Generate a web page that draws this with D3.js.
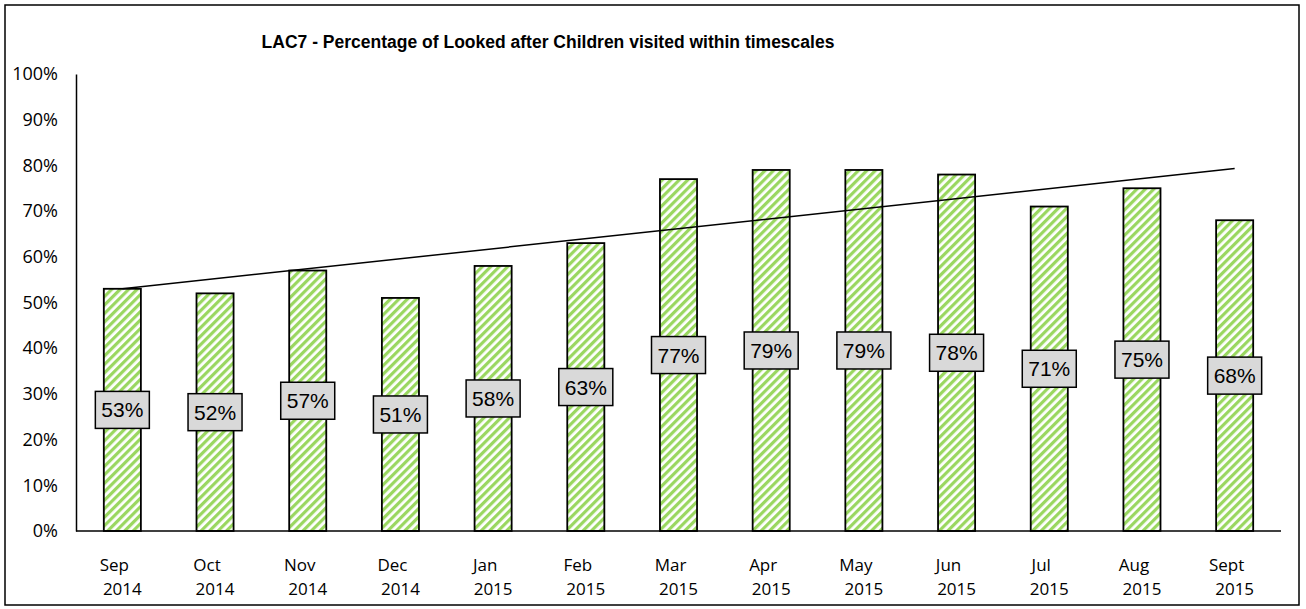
<!DOCTYPE html>
<html>
<head>
  <meta charset="utf-8">
  <script src="https://d3js.org/d3.v7.min.js"></script>
  <style type="text/css">
  body { margin: 0; background: #fff; }
  svg { display: block; }
  .yaxis line { display: none; }
  .yaxis text { font-family: "Open Sans", sans-serif; font-size: 18px; font-weight: 400; fill: #000; }
  .xlab { font-family: "Open Sans", sans-serif; font-size: 17px; font-weight: 400; fill: #000; }
  </style>
</head>
<body>
<script type="text/javascript">
  // data
  var months = ["Sep", "Oct", "Nov", "Dec", "Jan", "Feb", "Mar", "Apr", "May", "Jun", "Jul", "Aug", "Sept"];
  var years = ["2014", "2014", "2014", "2014", "2015", "2015", "2015", "2015", "2015", "2015", "2015", "2015", "2015"];
  var values = [53, 52, 57, 51, 58, 63, 77, 79, 79, 78, 71, 75, 68];
  // target line, from first to last month
  var targetStart = 53, targetEnd = 79.3;
  var yTicks = [0, 10, 20, 30, 40, 50, 60, 70, 80, 90, 100];

  var W = 1306, H = 609;
  var plot = {left: 76, right: 1281, top: 74, bottom: 531};

  var svg = d3.select("body").append("svg")
    .attr("width", W)
    .attr("height", H);

  // outer frame
  svg.append("rect")
    .attr("x", 5).attr("y", 5)
    .attr("width", 1294).attr("height", 600)
    .attr("fill", "#fff")
    .attr("stroke", "#000")
    .attr("stroke-width", 1.5);

  // striped fill
  var defs = svg.append("defs");
  var pat = defs.append("pattern")
    .attr("id", "stripes")
    .attr("patternUnits", "userSpaceOnUse")
    .attr("width", 6).attr("height", 6)
    .attr("patternTransform", "rotate(45)");
  pat.append("rect").attr("width", 6).attr("height", 6).attr("fill", "#ffffff");
  pat.append("rect").attr("width", 3.2).attr("height", 6).attr("fill", "#9ad760");

  var x = d3.scaleBand()
    .domain(months.map(function(d, i) { return i; }))
    .range([plot.left, plot.right])
    .paddingInner(0.6)
    .paddingOuter(0.3);

  var y = d3.scaleLinear()
    .domain([0, 100])
    .range([plot.bottom, plot.top]);

  // y axis
  var yAxis = d3.axisLeft(y)
    .tickValues(yTicks)
    .tickSize(0)
    .tickPadding(18)
    .tickFormat(function(d) { return d + "%"; });

  svg.append("g")
    .attr("class", "yaxis")
    .attr("transform", "translate(" + plot.left + ",0)")
    .call(yAxis)
    .select(".domain")
    .attr("stroke", "#000")
    .attr("stroke-width", 1.5);

  // bars
  svg.selectAll(".bar")
    .data(values)
    .enter().append("rect")
    .attr("class", "bar")
    .attr("x", function(d, i) { return x(i); })
    .attr("y", function(d) { return y(d); })
    .attr("width", x.bandwidth())
    .attr("height", function(d) { return y(0) - y(d); })
    .attr("fill", "url(#stripes)")
    .attr("stroke", "#000")
    .attr("stroke-width", 1.8);

  // x axis baseline
  svg.append("line")
    .attr("x1", plot.left).attr("x2", plot.right)
    .attr("y1", y(0)).attr("y2", y(0))
    .attr("stroke", "#000")
    .attr("stroke-width", 1.5);

  // target line
  var cx = function(i) { return x(i) + x.bandwidth() / 2; };
  svg.append("line")
    .attr("x1", cx(0)).attr("y1", y(targetStart))
    .attr("x2", cx(values.length - 1)).attr("y2", y(targetEnd))
    .attr("stroke", "#000")
    .attr("stroke-width", 1.5);

  // value labels
  var lab = svg.selectAll(".lab")
    .data(values)
    .enter().append("g")
    .attr("class", "lab")
    .attr("transform", function(d, i) {
      return "translate(" + cx(i) + "," + (y(d) + y(0)) / 2 + ")";
    });
  lab.append("rect")
    .attr("x", -27).attr("y", -18.5)
    .attr("width", 54).attr("height", 37)
    .attr("fill", "#d9d9d9")
    .attr("stroke", "#000")
    .attr("stroke-width", 1.5);
  lab.append("text")
    .attr("text-anchor", "middle")
    .attr("dy", "0.36em")
    .style("font-family", "Arial, 'Liberation Sans', sans-serif")
    .style("font-size", "21px")
    .text(function(d) { return d + "%"; });

  // x labels, two lines
  var xl = svg.selectAll(".xlab")
    .data(months)
    .enter().append("text")
    .attr("class", "xlab")
    .attr("text-anchor", "middle")
    .attr("y", 571);
  xl.append("tspan")
    .attr("x", function(d, i) { return cx(i) - 8; })
    .text(function(d) { return d; });
  xl.append("tspan")
    .attr("x", function(d, i) { return cx(i); })
    .attr("dy", 24)
    .text(function(d, i) { return years[i]; });

  // title
  svg.append("text")
    .attr("x", 548)
    .attr("y", 48)
    .attr("text-anchor", "middle")
    .style("font-family", "Arial, 'Liberation Sans', sans-serif")
    .style("font-weight", "bold")
    .style("font-size", "17.5px")
    .text("LAC7 - Percentage of Looked after Children visited within timescales");
</script>
</body>
</html>
